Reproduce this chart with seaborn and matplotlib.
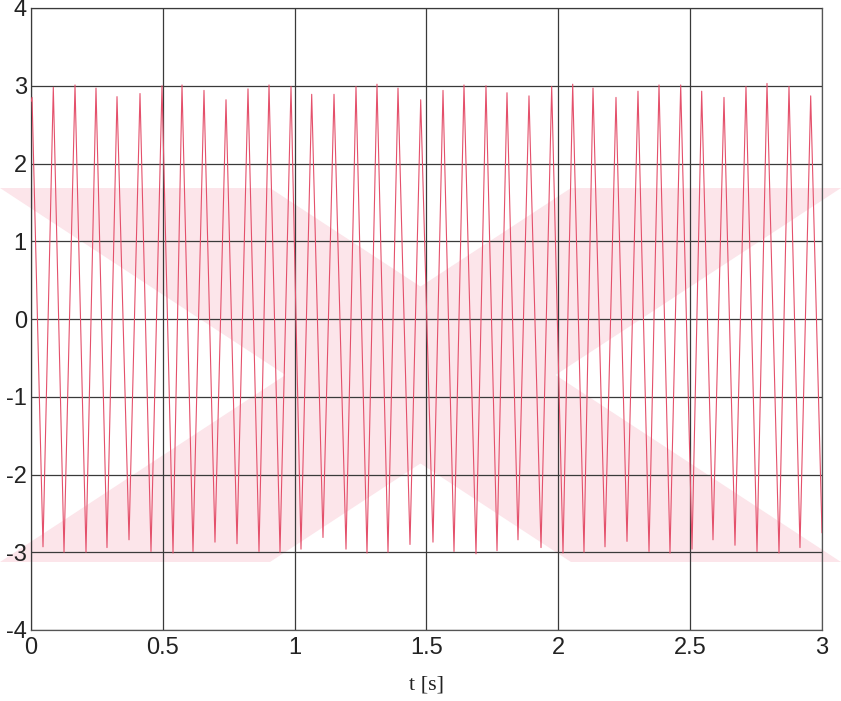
import numpy as np
import pandas as pd
import matplotlib
matplotlib.use("Agg")
import matplotlib.pyplot as plt
import seaborn as sns
from matplotlib.patches import Polygon

# values: local maxima / minima of the signal
start_t, start_v = 0.0, 2.80
end_t, end_v = 3.0, -2.75

peak_t = [0.004, 0.0846, 0.1669, 0.2465, 0.3262, 0.4134, 0.4968, 0.5727, 0.6561,
          0.7396, 0.8230, 0.9027, 0.9861, 1.0646, 1.1492, 1.2326, 1.3122, 1.3919,
          1.4780, 1.5626, 1.6422, 1.7256, 1.8053, 1.8887, 1.9748, 2.0545, 2.1315,
          2.2187, 2.3021, 2.3818, 2.4641, 2.5437, 2.6283, 2.7117, 2.7914, 2.8748,
          2.9571]
peak_v = [2.85, 2.98, 3.01, 2.97, 2.86, 2.90, 3.00, 3.01, 2.94, 2.82, 2.96, 3.01,
          2.99, 2.89, 2.89, 2.99, 3.02, 2.97, 2.82, 2.94, 3.01, 3.00, 2.91, 2.87,
          2.99, 3.02, 2.97, 2.85, 2.93, 3.01, 3.01, 2.93, 2.85, 2.99, 3.03, 2.99,
          2.87]

trough_t = [0.0455, 0.1252, 0.2086, 0.2882, 0.3717, 0.4551, 0.5386, 0.6144, 0.6978,
            0.7813, 0.8647, 0.9444, 1.0240, 1.1074, 1.1947, 1.2743, 1.3540, 1.4374,
            1.5246, 1.6043, 1.6877, 1.7674, 1.8470, 1.9343, 2.0177, 2.0973, 2.1770,
            2.2604, 2.3439, 2.4235, 2.5070, 2.5866, 2.6700, 2.7535, 2.8369, 2.9165]
trough_v = [-2.93, -3.00, -3.00, -2.94, -2.84, -2.99, -3.01, -2.99, -2.87, -2.89,
            -2.99, -3.00, -2.96, -2.81, -2.96, -3.01, -3.00, -2.90, -2.87, -2.99,
            -3.02, -2.98, -2.84, -2.94, -3.01, -3.00, -2.93, -2.86, -2.99, -3.01,
            -2.96, -2.84, -2.91, -2.99, -3.01, -2.94]

x_ticks = [0, 0.5, 1, 1.5, 2, 2.5, 3]
x_labels = ["0", "0.5", "1", "1.5", "2", "2.5", "3"]
y_ticks = [-4, -3, -2, -1, 0, 1, 2, 3, 4]
y_labels = ["-4", "-3", "-2", "-1", "0", "1", "2", "3", "4"]

# build the signal from the extremes in time order
t = [start_t]
v = [start_v]
for i in range(len(peak_t)):
    t.append(peak_t[i]); v.append(peak_v[i])
    if i < len(trough_t):
        t.append(trough_t[i]); v.append(trough_v[i])
t.append(end_t); v.append(end_v)
df = pd.DataFrame({"t": t, "u": v})

sns.set_theme(style="white")
plt.rcParams["font.family"] = ["Liberation Sans Narrow", "Liberation Sans", "DejaVu Sans"]

fig = plt.figure(figsize=(8.41, 7.01), dpi=100)
ax = fig.add_axes([31 / 841, 1 - 630 / 701, 791 / 841, 622 / 701])
ax.set_facecolor("none")

# faint pink X watermark behind the plot (figure pixel coords)
def px(x, y):
    return (x / 841, 1 - y / 701)

wm = "#fce5ea"
band1 = [px(0, 188), px(270, 188), px(841, 562), px(571, 562)]
band2 = [px(571, 188), px(841, 188), px(270, 562), px(0, 562)]
for b in (band1, band2):
    fig.patches.append(Polygon(b, closed=True, transform=fig.transFigure,
                               facecolor=wm, edgecolor="none", zorder=-10))

sns.lineplot(data=df, x="t", y="u", ax=ax, color="#e4506b", linewidth=0.8,
             estimator=None, sort=False, zorder=3)

ax.set_xlim(0, 3)
ax.set_ylim(-4, 4)
ax.set_xticks(x_ticks)
ax.set_xticklabels(x_labels, fontsize=17)
ax.set_yticks(y_ticks)
ax.set_yticklabels(y_labels, fontsize=17)
ax.tick_params(axis="x", length=0, pad=5, colors="#222222")
ax.tick_params(axis="y", length=0, pad=3, colors="#222222")
ax.grid(True, color="#3a3a3a", linewidth=0.9)
ax.set_axisbelow(False)
for s in ax.spines.values():
    s.set_color("#555555")
    s.set_linewidth(0.9)

ax.set_xlabel("t [s]", fontsize=16, family=["Liberation Serif", "DejaVu Serif"],
              labelpad=12, color="#222222")
ax.set_ylabel("")

fig.savefig("out.png", dpi=100)
